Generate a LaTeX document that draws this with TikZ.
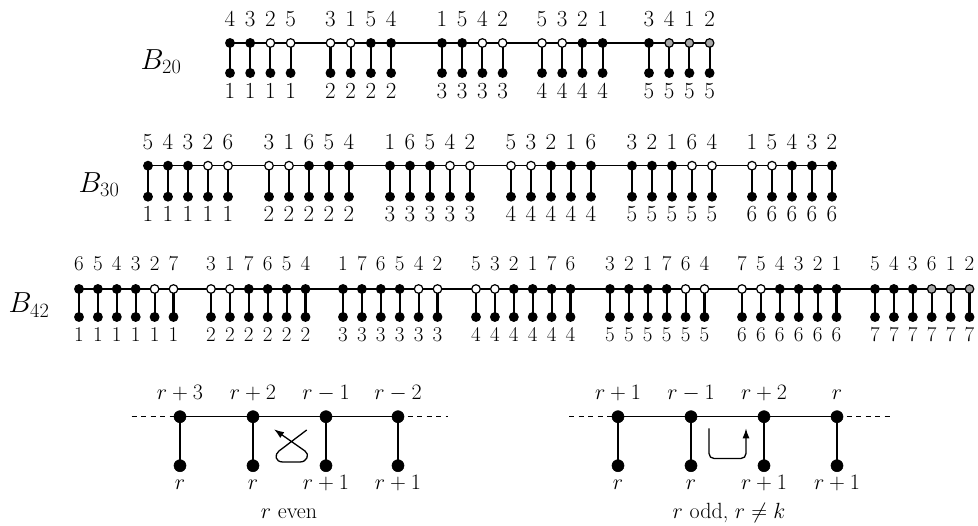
\documentclass[tikz,border=0pt]{standalone}
\usepackage{fix-cm}
\usetikzlibrary{arrows.meta,backgrounds}
\colorlet{cf}{black}
\colorlet{co}{white}
\colorlet{cg}{black!35}
\tikzset{
  dotbase/.style={circle,draw=black,line width=1.2pt,inner sep=0pt,minimum size=8.6pt},
  dotf/.style={dotbase,fill=black},
  dotb/.style={circle,fill=black,draw=black,line width=0.6pt,inner sep=0pt,minimum size=12pt},
  rowline/.style={line width=1.6pt},
  stemline/.style={line width=2.1pt},
  labA/.style={inner sep=0pt,anchor=base,font=\fontsize{23}{27}\selectfont},
  labC/.style={inner sep=0pt,anchor=base,font=\fontsize{21}{25}\selectfont},
  labD/.style={inner sep=0pt,anchor=base,font=\fontsize{22}{26}\selectfont},
  labB/.style={inner sep=0pt,anchor=base,font=\fontsize{29}{34}\selectfont},
  mainline/.style={line width=1.6pt},
  dashline/.style={line width=1.5pt,dash pattern=on 5pt off 4.5pt},
  legline/.style={line width=1.5pt},
  arr/.style={line width=1.3pt,-{Latex[length=10pt,width=7pt]}},
}
\begin{document}
\begin{tikzpicture}[x=1pt,y=-1pt]
\useasboundingbox (0,0) rectangle (978,526);
% ---------------- B20 ----------------
\node[labB] (B20) at (161,69.3) {$B_{20}$};
\foreach \g/\sx/\lst in {1/230/{4/cf,3/cf,2/co,5/co},2/330.5/{3/co,1/co,5/cf,4/cf},3/442/{1/cf,5/cf,4/co,2/co},4/542/{5/co,3/co,2/cf,1/cf},5/649/{3/cf,4/cg,1/cg,2/cg}}{
  \foreach \d/\c [count=\i] in \lst {
    \pgfmathsetmacro\xx{\sx+(\i-1)*20.2}
    \node[dotbase,fill=\c] (ta-\g-\i) at (\xx,43) {};
    \node[dotf] (ba-\g-\i) at (\xx,73) {};
    \node[labA] (ua-\g-\i) at (\xx,27) {\d};
    \node[labA] (la-\g-\i) at (\xx,98.5) {\g};
  }
}
\begin{pgfonlayer}{background}
  \draw[rowline] (ta-1-1.center) -- (ta-5-4.center);
  \foreach \g in {1,...,5}{\foreach \i in {1,...,4}{
    \draw[stemline] (ta-\g-\i.center) -- (ba-\g-\i.center);}}
\end{pgfonlayer}
% ---------------- B30 ----------------
\node[labB] (B30) at (99,192.5) {$B_{30}$};
\foreach \g/\sx/\lst in {1/148/{5/cf,4/cf,3/cf,2/co,6/co},2/269/{3/co,1/co,6/cf,5/cf,4/cf},3/390/{1/cf,6/cf,5/cf,4/co,2/co},4/511/{5/co,3/co,2/cf,1/cf,6/cf},5/632/{3/cf,2/cf,1/cf,6/co,4/co},6/752/{1/co,5/co,4/cf,3/cf,2/cf}}{
  \foreach \d/\c [count=\i] in \lst {
    \pgfmathsetmacro\xx{\sx+(\i-1)*20}
    \node[dotbase,fill=\c] (tb-\g-\i) at (\xx,165.7) {};
    \node[dotf] (bb-\g-\i) at (\xx,196.7) {};
    \node[labA] (ub-\g-\i) at (\xx,149.5) {\d};
    \node[labA] (lb-\g-\i) at (\xx,222) {\g};
  }
}
\begin{pgfonlayer}{background}
  \draw[rowline] (tb-1-1.center) -- (tb-6-5.center);
  \foreach \g in {1,...,6}{\foreach \i in {1,...,5}{
    \draw[stemline] (tb-\g-\i.center) -- (bb-\g-\i.center);}}
\end{pgfonlayer}
% ---------------- B42 ----------------
\node[labB] (B42) at (29,313) {$B_{42}$};
\foreach \g/\sx/\lst in {1/79/{6/cf,5/cf,4/cf,3/cf,2/co,7/co},2/211/{3/co,1/co,7/cf,6/cf,5/cf,4/cf},3/343/{1/cf,7/cf,6/cf,5/cf,4/co,2/co},4/476/{5/co,3/co,2/cf,1/cf,7/cf,6/cf},5/610/{3/cf,2/cf,1/cf,7/cf,6/co,4/co},6/742/{7/co,5/co,4/cf,3/cf,2/cf,1/cf},7/875/{5/cf,4/cf,3/cf,6/cg,1/cg,2/cg}}{
  \foreach \d/\c [count=\i] in \lst {
    \pgfmathsetmacro\xx{\sx+(\i-1)*18.9}
    \node[dotbase,fill=\c] (tc-\g-\i) at (\xx,289) {};
    \node[dotf] (bc-\g-\i) at (\xx,317) {};
    \node[labC] (uc-\g-\i) at (\xx,271) {\d};
    \node[labC] (lc-\g-\i) at (\xx,342) {\g};
  }
}
\begin{pgfonlayer}{background}
  \draw[rowline] (tc-1-1.center) -- (tc-7-6.center);
  \foreach \g in {1,...,7}{\foreach \i in {1,...,6}{
    \draw[stemline] (tc-\g-\i.center) -- (bc-\g-\i.center);}}
\end{pgfonlayer}
% ---------------- lower left ----------------
\foreach \n/\x/\ta/\ba in {1/180/{$r+3$}/{$r$},2/253/{$r+2$}/{$r$},3/326/{$r-1$}/{$r+1$},4/398/{$r-2$}/{$r+1$}}{
  \node[dotb] (p\n) at (\x,416.7) {};
  \node[dotb] (q\n) at (\x,465.7) {};
  \node[labD] (pt\n) at (\x,400) {\ta};
  \node[labD] (pb\n) at (\x,490) {\ba};
}
\coordinate (pl) at (131.7,416.7);
\coordinate (pr) at (448,416.7);
\begin{pgfonlayer}{background}
  \draw[mainline] (p1.center) -- (p4.center);
  \draw[dashline] (pl) -- (p1.center);
  \draw[dashline] (p4.center) -- (pr);
  \foreach \n in {1,...,4}{\draw[legline] (p\n.center) -- (q\n.center);}
\end{pgfonlayer}
\node[labD] (capL) at (289,519) {$r$ even};
\draw[arr] (306.7,430) -- (279,451) .. controls (274.2,454.6) and (275,462) .. (283,462)
  -- (300,462) .. controls (307,462) and (310,454.4) .. (305,451) -- (274,429.3);
% ---------------- lower right ----------------
\foreach \n/\x/\ta/\ba in {1/618/{$r+1$}/{$r$},2/691/{$r-1$}/{$r$},3/764/{$r+2$}/{$r+1$},4/837/{$r$}/{$r+1$}}{
  \node[dotb] (s\n) at (\x,416.7) {};
  \node[dotb] (v\n) at (\x,465.7) {};
  \node[labD] (st\n) at (\x,400) {\ta};
  \node[labD] (sb\n) at (\x,490) {\ba};
}
\coordinate (sl) at (569,416.7);
\coordinate (sr) at (891,416.7);
\begin{pgfonlayer}{background}
  \draw[mainline] (s1.center) -- (s4.center);
  \draw[dashline] (sl) -- (s1.center);
  \draw[dashline] (s4.center) -- (sr);
  \foreach \n in {1,...,4}{\draw[legline] (s\n.center) -- (v\n.center);}
\end{pgfonlayer}
\node[labD] (capR) at (729,519) {$r$ odd, $r\neq k$};
\draw[arr,rounded corners=5pt] (709,428.3) -- (709,458.5) -- (746,458.5) -- (746,428.3);
\end{tikzpicture}
\end{document}
